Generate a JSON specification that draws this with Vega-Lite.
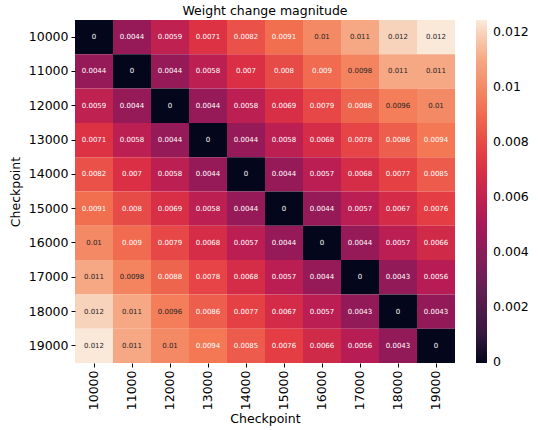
{
  "$schema": "https://vega.github.io/schema/vega-lite/v6.json",
  "autosize": "none",
  "padding": {"left": 75, "top": 20, "right": 83, "bottom": 67},
  "width": 380,
  "height": 343,
  "background": "white",
  "title": {"text": "Weight change magnitude", "fontSize": 12.5, "fontWeight": "normal", "font": "DejaVu Sans", "color": "black", "offset": 3, "anchor": "middle"},
  "config": {"view": {"stroke": null}, "font": "DejaVu Sans"},
  "data": {"values": [
    {"y":"10000","x":"10000","v":0},{"y":"10000","x":"11000","v":0.0044},{"y":"10000","x":"12000","v":0.0059},{"y":"10000","x":"13000","v":0.0071},{"y":"10000","x":"14000","v":0.0082},{"y":"10000","x":"15000","v":0.0091},{"y":"10000","x":"16000","v":0.01},{"y":"10000","x":"17000","v":0.011},{"y":"10000","x":"18000","v":0.012},{"y":"10000","x":"19000","v":0.0124},
    {"y":"11000","x":"10000","v":0.0044},{"y":"11000","x":"11000","v":0},{"y":"11000","x":"12000","v":0.0044},{"y":"11000","x":"13000","v":0.0058},{"y":"11000","x":"14000","v":0.007},{"y":"11000","x":"15000","v":0.008},{"y":"11000","x":"16000","v":0.009},{"y":"11000","x":"17000","v":0.0098},{"y":"11000","x":"18000","v":0.011},{"y":"11000","x":"19000","v":0.011},
    {"y":"12000","x":"10000","v":0.0059},{"y":"12000","x":"11000","v":0.0044},{"y":"12000","x":"12000","v":0},{"y":"12000","x":"13000","v":0.0044},{"y":"12000","x":"14000","v":0.0058},{"y":"12000","x":"15000","v":0.0069},{"y":"12000","x":"16000","v":0.0079},{"y":"12000","x":"17000","v":0.0088},{"y":"12000","x":"18000","v":0.0096},{"y":"12000","x":"19000","v":0.01},
    {"y":"13000","x":"10000","v":0.0071},{"y":"13000","x":"11000","v":0.0058},{"y":"13000","x":"12000","v":0.0044},{"y":"13000","x":"13000","v":0},{"y":"13000","x":"14000","v":0.0044},{"y":"13000","x":"15000","v":0.0058},{"y":"13000","x":"16000","v":0.0068},{"y":"13000","x":"17000","v":0.0078},{"y":"13000","x":"18000","v":0.0086},{"y":"13000","x":"19000","v":0.0094},
    {"y":"14000","x":"10000","v":0.0082},{"y":"14000","x":"11000","v":0.007},{"y":"14000","x":"12000","v":0.0058},{"y":"14000","x":"13000","v":0.0044},{"y":"14000","x":"14000","v":0},{"y":"14000","x":"15000","v":0.0044},{"y":"14000","x":"16000","v":0.0057},{"y":"14000","x":"17000","v":0.0068},{"y":"14000","x":"18000","v":0.0077},{"y":"14000","x":"19000","v":0.0085},
    {"y":"15000","x":"10000","v":0.0091},{"y":"15000","x":"11000","v":0.008},{"y":"15000","x":"12000","v":0.0069},{"y":"15000","x":"13000","v":0.0058},{"y":"15000","x":"14000","v":0.0044},{"y":"15000","x":"15000","v":0},{"y":"15000","x":"16000","v":0.0044},{"y":"15000","x":"17000","v":0.0057},{"y":"15000","x":"18000","v":0.0067},{"y":"15000","x":"19000","v":0.0076},
    {"y":"16000","x":"10000","v":0.01},{"y":"16000","x":"11000","v":0.009},{"y":"16000","x":"12000","v":0.0079},{"y":"16000","x":"13000","v":0.0068},{"y":"16000","x":"14000","v":0.0057},{"y":"16000","x":"15000","v":0.0044},{"y":"16000","x":"16000","v":0},{"y":"16000","x":"17000","v":0.0044},{"y":"16000","x":"18000","v":0.0057},{"y":"16000","x":"19000","v":0.0066},
    {"y":"17000","x":"10000","v":0.011},{"y":"17000","x":"11000","v":0.0098},{"y":"17000","x":"12000","v":0.0088},{"y":"17000","x":"13000","v":0.0078},{"y":"17000","x":"14000","v":0.0068},{"y":"17000","x":"15000","v":0.0057},{"y":"17000","x":"16000","v":0.0044},{"y":"17000","x":"17000","v":0},{"y":"17000","x":"18000","v":0.0043},{"y":"17000","x":"19000","v":0.0056},
    {"y":"18000","x":"10000","v":0.012},{"y":"18000","x":"11000","v":0.011},{"y":"18000","x":"12000","v":0.0096},{"y":"18000","x":"13000","v":0.0086},{"y":"18000","x":"14000","v":0.0077},{"y":"18000","x":"15000","v":0.0067},{"y":"18000","x":"16000","v":0.0057},{"y":"18000","x":"17000","v":0.0043},{"y":"18000","x":"18000","v":0},{"y":"18000","x":"19000","v":0.0043},
    {"y":"19000","x":"10000","v":0.0124},{"y":"19000","x":"11000","v":0.011},{"y":"19000","x":"12000","v":0.01},{"y":"19000","x":"13000","v":0.0094},{"y":"19000","x":"14000","v":0.0085},{"y":"19000","x":"15000","v":0.0076},{"y":"19000","x":"16000","v":0.0066},{"y":"19000","x":"17000","v":0.0056},{"y":"19000","x":"18000","v":0.0043},{"y":"19000","x":"19000","v":0}
  ]},
  "encoding": {
    "x": {"field": "x", "type": "ordinal", "scale": {"paddingInner": 0, "paddingOuter": 0},
      "axis": {"title": "Checkpoint", "labelAngle": 270, "labelFontSize": 12.5, "titleFontSize": 12.5, "titleFontWeight": "normal", "labelColor": "black", "titleColor": "black", "domain": false, "tickColor": "black", "tickSize": 4, "labelPadding": 3, "titlePadding": 3, "labelFont": "DejaVu Sans", "titleFont": "DejaVu Sans"}},
    "y": {"field": "y", "type": "ordinal", "scale": {"paddingInner": 0, "paddingOuter": 0},
      "axis": {"title": "Checkpoint", "labelAngle": 0, "labelFontSize": 12.5, "titleFontSize": 12.5, "titleFontWeight": "normal", "labelColor": "black", "titleColor": "black", "domain": false, "tickColor": "black", "tickSize": 4, "labelPadding": 3, "titlePadding": 6, "labelFont": "DejaVu Sans", "titleFont": "DejaVu Sans"}}
  },
  "layer": [
    {
      "mark": {"type": "rect"},
      "encoding": {
        "color": {"field": "v", "type": "quantitative",
          "scale": {"type": "linear", "interpolate": "rgb",
            "domain": [-0.00003, 0.0010375, 0.0031125, 0.0051875, 0.0072625, 0.0093375, 0.0114125, 0.01245],
            "range": ["#03051a", "#35193e", "#701f57", "#ad1759", "#e13342", "#f37651", "#f6b48f", "#faebdd"]},
          "legend": {"orient": "none", "legendX": 401, "legendY": 0, "direction": "vertical", "gradientLength": 343, "gradientThickness": 11, "gradientStrokeWidth": 0, "title": null, "values": [0, 0.002, 0.004, 0.006, 0.008, 0.01, 0.012], "format": ".3~f", "labelFontSize": 12.5, "labelColor": "black", "labelOffset": 6, "labelBaseline": "middle", "labelFont": "DejaVu Sans"}}
      }
    },
    {
      "mark": {"type": "text", "fontSize": 7, "font": "DejaVu Sans"},
      "encoding": {
        "text": {"field": "v", "type": "quantitative", "format": ".2~g"},
        "color": {"condition": {"test": "datum.v >= 0.0095", "value": "#262626"}, "value": "white"}
      }
    }
  ]
}
